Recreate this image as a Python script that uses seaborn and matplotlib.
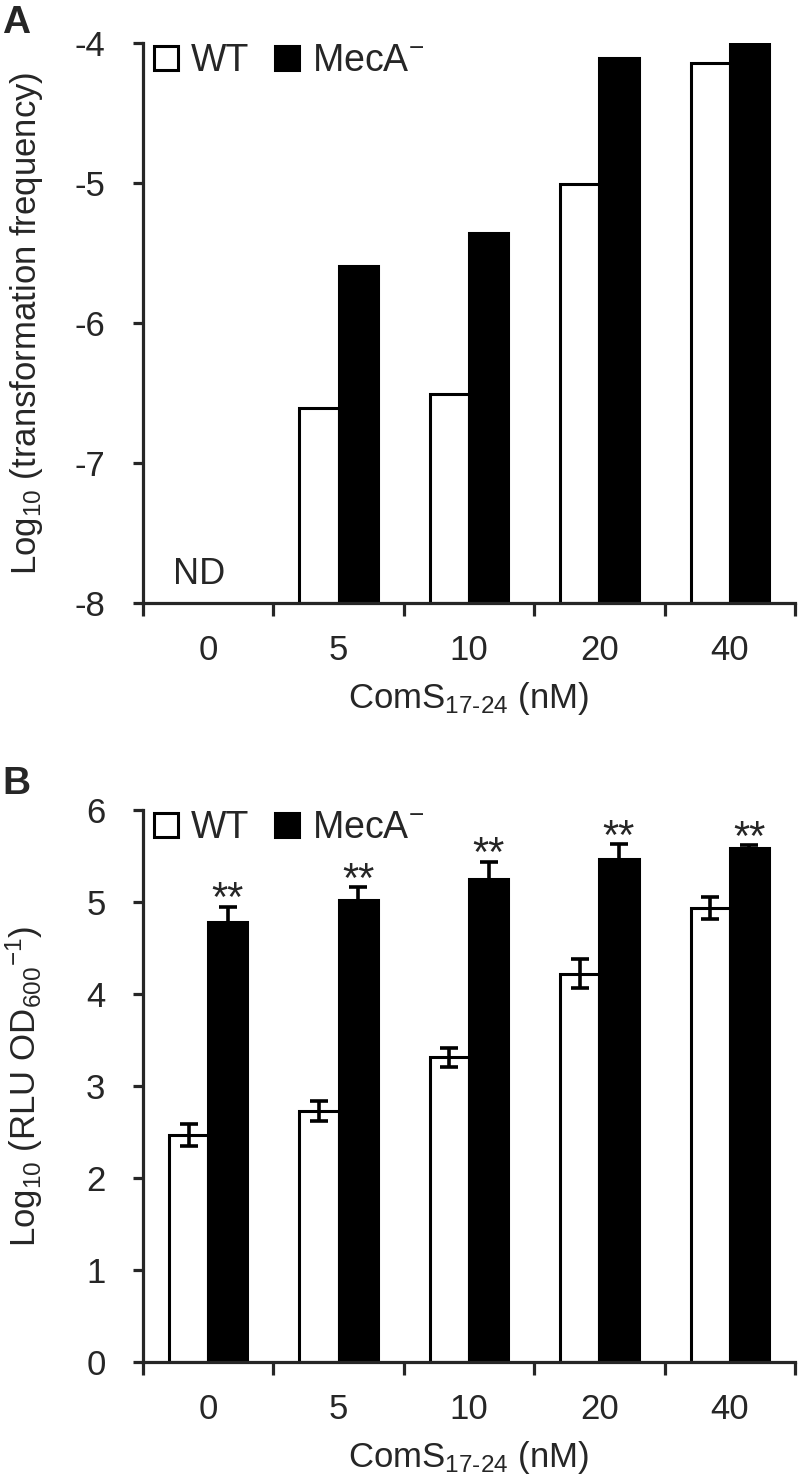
import numpy as np
import pandas as pd
import matplotlib
matplotlib.use("Agg")
import matplotlib.pyplot as plt
from matplotlib.patches import Patch
import seaborn as sns

# ---------------- data ----------------
categories = ["0", "5", "10", "20", "40"]
strains = ["WT", "MecA$^{-}$"]

# Panel A: log10 transformation frequency (NaN = not detected)
a_wt = [np.nan, -6.61, -6.51, -5.01, -4.14]
a_meca = [np.nan, -5.59, -5.36, -4.11, -4.00]
a_base = -8.0
a_yticks = [-8, -7, -6, -5, -4]

# Panel B: log10 (RLU OD600^-1) with error
b_wt = [2.47, 2.73, 3.31, 4.22, 4.93]
b_wt_err = [0.12, 0.11, 0.10, 0.16, 0.12]
b_meca = [4.78, 5.02, 5.25, 5.47, 5.59]
b_meca_err = [0.17, 0.14, 0.19, 0.16, 0.03]
b_yticks = [0, 1, 2, 3, 4, 5, 6]
b_sig = ["**", "**", "**", "**", "**"]

# ---------------- style ----------------
sns.set_style("ticks")
plt.rcParams["font.family"] = ["Liberation Sans", "DejaVu Sans"]
plt.rcParams["mathtext.fontset"] = "custom"
plt.rcParams["mathtext.rm"] = "Liberation Sans"
plt.rcParams["mathtext.it"] = "Liberation Sans:italic"
plt.rcParams["mathtext.bf"] = "Liberation Sans:bold"
plt.rcParams["axes.unicode_minus"] = False

FS = 25
palette = {strains[0]: "white", strains[1]: "black"}

fig = plt.figure(figsize=(8, 14.83), dpi=100)
H = 1483.0
W = 800.0
axA = fig.add_axes([143 / W, 1 - 603 / H, 652 / W, 560 / H])
axB = fig.add_axes([143 / W, 1 - 1362 / H, 652 / W, 552 / H])

# ---------------- panel A ----------------
dfA = pd.DataFrame({
    "conc": categories * 2,
    "strain": [strains[0]] * 5 + [strains[1]] * 5,
    "value": a_wt + a_meca,
})
dfA["height"] = dfA["value"] - a_base
dfA = dfA.dropna()
sns.barplot(data=dfA, x="conc", y="height", hue="strain", order=categories,
            hue_order=strains, palette=palette, saturation=1, width=0.6, gap=0,
            edgecolor="black", linewidth=2.2, errorbar=None, legend=False,
            bottom=a_base, ax=axA)
axA.set_ylim(a_base, -4)
axA.set_yticks(a_yticks)
axA.set_yticklabels([str(t) for t in a_yticks])
axA.text(-0.07, a_base + 0.2, "ND", ha="center", va="center", fontsize=26)

# ---------------- panel B ----------------
dfB = pd.DataFrame({
    "conc": categories * 2,
    "strain": [strains[0]] * 5 + [strains[1]] * 5,
    "value": b_wt + b_meca,
})
sns.barplot(data=dfB, x="conc", y="value", hue="strain", order=categories,
            hue_order=strains, palette=palette, saturation=1, width=0.6, gap=0,
            edgecolor="black", linewidth=2.2, errorbar=None, legend=False, ax=axB)
errs = [b_wt_err, b_meca_err]
vals = [b_wt, b_meca]
bar_conts = list(axB.containers)
for k, cont in enumerate(bar_conts):
    xs = [p.get_x() + p.get_width() / 2 for p in cont]
    axB.errorbar(xs, vals[k], yerr=errs[k], fmt="none", ecolor="black",
                 elinewidth=2.6, capsize=6.5, capthick=2.6, zorder=5)
    if k == 1:
        for x, v, e, s in zip(xs, vals[k], errs[k], b_sig):
            axB.text(x, v + e - 0.05, s, ha="center", va="baseline", fontsize=30)
axB.set_ylim(0, 6)
axB.set_yticks(b_yticks)

# ---------------- common axes styling ----------------
xlabel = r"ComS$_{17\text{-}24}$ (nM)"
for ax, ylab in [(axA, r"Log$_{10}$ (transformation frequency)"),
                 (axB, r"Log$_{10}$ (RLU OD$_{600}$$^{-1}$)")]:
    sns.despine(ax=ax)
    for sp in ["left", "bottom"]:
        ax.spines[sp].set_linewidth(2.3)
    ax.set_xlim(-0.5, 4.5)
    ax.set_xticks(np.arange(-0.5, 5.0, 1.0), minor=True)
    ax.tick_params(axis="x", which="major", length=0, pad=22, labelsize=FS)
    ax.tick_params(axis="x", which="minor", length=9, width=2.3, direction="out")
    ax.tick_params(axis="y", length=7, width=2.3, direction="out", pad=20,
                   labelsize=FS)
    ax.set_xlabel(xlabel, fontsize=FS, labelpad=10)
    ax.set_ylabel(ylab, fontsize=FS)
    ax.yaxis.set_label_coords(-0.15, 0.5)
    handles = [Patch(facecolor=palette[s], edgecolor="black", linewidth=2.2, label=s)
               for s in strains]
    ax.legend(handles=handles, loc="upper left", bbox_to_anchor=(0.0, 1.02),
              ncol=2, frameon=False, fontsize=27, handlelength=0.62,
              handleheight=0.62, handletextpad=0.35, columnspacing=0.7,
              borderaxespad=0, borderpad=0.3)

fig.text(2 / W, 1 - 5 / H, "A", fontsize=28, fontweight="bold", va="top", ha="left")
fig.text(2 / W, 1 - 766 / H, "B", fontsize=28, fontweight="bold", va="top", ha="left")

fig.savefig("out.png", dpi=100)
